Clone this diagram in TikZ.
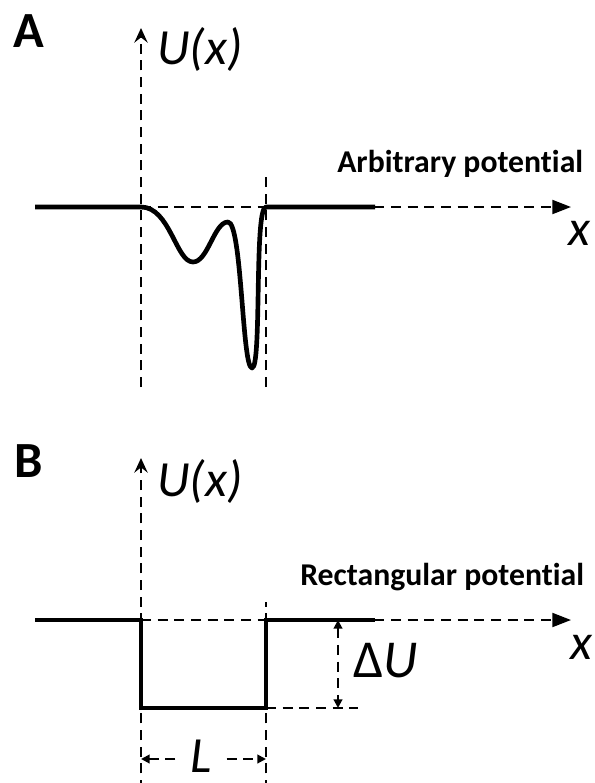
\documentclass[tikz,border=0pt]{standalone}
\usepackage{fontspec}
\setmainfont{Carlito}[Ligatures=NoCommon]
\usetikzlibrary{arrows.meta}

\begin{document}
\begin{tikzpicture}[x=0.75pt,y=-0.75pt,line join=round,
  guide/.style={line width=1.5pt,dash pattern=on 7.5pt off 5pt},
  potline/.style={line width=3.5pt},
  xaxis/.style={guide,-{Triangle[length=14pt,width=10.5pt]}},
  yaxis/.style={guide,-{Stealth[length=11pt,width=10pt,inset=4pt]}},
  dimline/.style={guide,-{Triangle[length=6.5pt,width=6.5pt]}},
  dimboth/.style={guide,{Triangle[length=6.5pt,width=6.5pt]}-{Triangle[length=6.5pt,width=6.5pt]}},
  panel/.style={font=\bfseries\fontsize{38}{38}\selectfont,anchor=base west,inner sep=0pt},
  title/.style={font=\bfseries\fontsize{23.8}{24}\selectfont,anchor=base west,inner sep=0pt},
  bigmath/.style={font=\itshape\fontsize{38}{38}\selectfont,anchor=base west,inner sep=0pt}]
  \useasboundingbox (0,0) rectangle (595,783);
  % panel A
  \coordinate (oA) at (141,207);
  \coordinate (yAt) at (141,28);
  \coordinate (yAb) at (141,387);
  \coordinate (xAs) at (35,207);
  \coordinate (xAe) at (571,207);
  \coordinate (rAt) at (266,172);
  \coordinate (rAb) at (266,387);
  \coordinate (sA) at (375,207);
  \node[panel] (lblA) at (13,47) {A};
  \node[bigmath] (uxA) at (157,64) {U(x)};
  \node[title] (titleA) at (337,172) {Arbitrary potential};
  \node[bigmath] (xA) at (568,245) {x};
  \draw[yaxis] (yAb) -- (yAt);
  \draw[guide] (rAb) -- (rAt);
  \draw[xaxis] (oA) -- (xAe);
  \draw[potline] (xAs) -- (oA)
    .. controls (170,207) and (176,262) .. (193,262)
    .. controls (208,262) and (214,222) .. (228,222)
    .. controls (242,222) and (242,368) .. (252,368)
    .. controls (262,368) and (254,207) .. (266,207) -- (sA);
  % panel B
  \coordinate (oB) at (141,620);
  \coordinate (yBt) at (141,458);
  \coordinate (yBb) at (141,790);
  \coordinate (xBs) at (35,620);
  \coordinate (xBe) at (571,620);
  \coordinate (bl) at (141,708);
  \coordinate (br) at (266,708);
  \coordinate (tr) at (266,620);
  \coordinate (sB) at (375,620);
  \coordinate (rBt) at (266,602);
  \coordinate (rBb) at (266,790);
  \coordinate (dUt) at (338,620);
  \coordinate (dUb) at (338,708);
  \coordinate (dUe) at (358,708);
  \coordinate (Ll) at (141,759);
  \coordinate (Lr) at (266,759);
  \node[panel] (lblB) at (14,477) {B};
  \node[bigmath] (uxB) at (157,496) {U(x)};
  \node[title] (titleB) at (300,585) {Rectangular potential};
  \node[bigmath] (xB) at (570,659) {x};
  \node[font=\fontsize{40}{40}\selectfont,anchor=base west,inner sep=0pt]
    (dU) at (353,677) {Δ\itshape U};
  \node[font=\itshape\fontsize{38}{38}\selectfont,anchor=base,inner xsep=11pt,inner ysep=0pt]
    (lenL) at (201,772) {L};
  \draw[yaxis] (yBb) -- (yBt);
  \draw[guide] (rBb) -- (rBt);
  \draw[xaxis] (oB) -- (xBe);
  \draw[guide] (br) -- (dUe);
  \draw[dimboth] (dUt) -- (dUb);
  \draw[dimline] (lenL.west |- Ll) -- (Ll);
  \draw[dimline] (lenL.east |- Lr) -- (Lr);
  \draw[potline,line join=miter] (xBs) -- (oB) -- (bl) -- (br) -- (tr) -- (sB);
\end{tikzpicture}
\end{document}
